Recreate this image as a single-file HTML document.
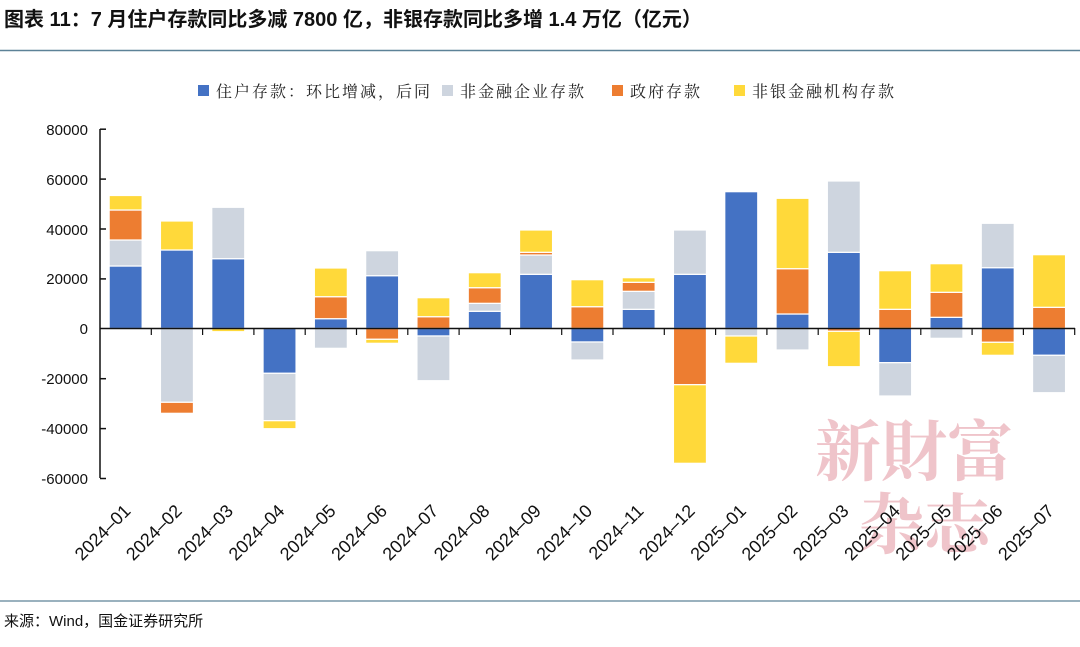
<!DOCTYPE html>
<html><head><meta charset="utf-8"><style>
body{margin:0;background:#fff;}
svg text{font-family:"Liberation Sans","Noto Sans CJK SC",sans-serif;}
</style></head><body>
<svg width="1080" height="642" viewBox="0 0 1080 642" xmlns="http://www.w3.org/2000/svg">
<rect width="1080" height="642" fill="#fff"/>
<text x="4" y="26" font-size="20" font-weight="bold" fill="#111">图表 11：7 月住户存款同比多减 7800 亿，非银存款同比多增 1.4 万亿（亿元）</text>
<line x1="0" y1="50.5" x2="1080" y2="50.5" stroke="#5d8297" stroke-width="1.5"/>
<line x1="0" y1="601" x2="1080" y2="601" stroke="#5d8297" stroke-width="1.2"/>
<text x="4" y="626" font-size="15" fill="#111">来源：Wind，国金证券研究所</text>
<g font-size="16" fill="#222">
<rect x="198" y="85" width="11" height="11" fill="#4472C4"/><text x="216" y="97" style="font-family:'Noto Serif CJK SC',serif" letter-spacing="2">住户存款：环比增减，后同</text>
<rect x="442" y="85" width="11" height="11" fill="#CED5DF"/><text x="460" y="97" style="font-family:'Noto Serif CJK SC',serif" letter-spacing="2">非金融企业存款</text>
<rect x="612" y="85" width="11" height="11" fill="#ED7D31"/><text x="630" y="97" style="font-family:'Noto Serif CJK SC',serif" letter-spacing="2">政府存款</text>
<rect x="734" y="85" width="11" height="11" fill="#FFD93A"/><text x="752" y="97" style="font-family:'Noto Serif CJK SC',serif" letter-spacing="2">非银金融机构存款</text>
</g>
<g font-size="15" fill="#111" text-anchor="end">
<text x="88" y="135">80000</text><text x="88" y="185">60000</text><text x="88" y="235">40000</text><text x="88" y="284">20000</text><text x="88" y="334">0</text><text x="88" y="384">-20000</text><text x="88" y="434">-40000</text><text x="88" y="484">-60000</text>
</g>
<g fill="#e08a95" fill-opacity="0.5" font-size="66" font-weight="bold">
<text x="815" y="475" style="font-family:'Noto Serif CJK SC',serif">新財富</text>
<text x="858" y="548" style="font-family:'Noto Serif CJK SC',serif">杂志</text>
</g>
<g stroke="#fff" stroke-width="1.2">
<g transform="translate(109.15,0)"><rect y="266" width="33" height="62.5" fill="#4472C4"/><rect y="240" width="33" height="26" fill="#CED5DF"/><rect y="210" width="33" height="30" fill="#ED7D31"/><rect y="195.5" width="33" height="14.5" fill="#FFD93A"/></g>
<g transform="translate(160.45,0)"><rect y="250" width="33" height="78.5" fill="#4472C4"/><rect y="221" width="33" height="29" fill="#FFD93A"/><rect y="328.5" width="33" height="73.8" fill="#CED5DF"/><rect y="402.3" width="33" height="11" fill="#ED7D31"/></g>
<g transform="translate(211.75,0)"><rect y="258.7" width="33" height="69.8" fill="#4472C4"/><rect y="207.3" width="33" height="51.4" fill="#CED5DF"/><rect y="328.5" width="33" height="3.2" fill="#FFD93A"/></g>
<g transform="translate(263.05,0)"><rect y="328.5" width="33" height="44.8" fill="#4472C4"/><rect y="373.3" width="33" height="47.4" fill="#CED5DF"/><rect y="420.7" width="33" height="8" fill="#FFD93A"/></g>
<g transform="translate(314.35,0)"><rect y="318.7" width="33" height="9.8" fill="#4472C4"/><rect y="296.7" width="33" height="22" fill="#ED7D31"/><rect y="268" width="33" height="28.7" fill="#FFD93A"/><rect y="328.5" width="33" height="19.8" fill="#CED5DF"/></g>
<g transform="translate(365.65,0)"><rect y="275.7" width="33" height="52.8" fill="#4472C4"/><rect y="250.7" width="33" height="25" fill="#CED5DF"/><rect y="328.5" width="33" height="10.8" fill="#ED7D31"/><rect y="339.3" width="33" height="4" fill="#FFD93A"/></g>
<g transform="translate(416.95,0)"><rect y="316.7" width="33" height="11.8" fill="#ED7D31"/><rect y="297.7" width="33" height="19" fill="#FFD93A"/><rect y="328.5" width="33" height="7.5" fill="#4472C4"/><rect y="336" width="33" height="44.7" fill="#CED5DF"/></g>
<g transform="translate(468.25,0)"><rect y="311.3" width="33" height="17.2" fill="#4472C4"/><rect y="303.3" width="33" height="8" fill="#CED5DF"/><rect y="287.7" width="33" height="15.6" fill="#ED7D31"/><rect y="272.7" width="33" height="15" fill="#FFD93A"/></g>
<g transform="translate(519.55,0)"><rect y="274.3" width="33" height="54.2" fill="#4472C4"/><rect y="255" width="33" height="19.3" fill="#CED5DF"/><rect y="252.3" width="33" height="2.7" fill="#ED7D31"/><rect y="230" width="33" height="22.3" fill="#FFD93A"/></g>
<g transform="translate(570.85,0)"><rect y="306.7" width="33" height="21.8" fill="#ED7D31"/><rect y="279.7" width="33" height="27" fill="#FFD93A"/><rect y="328.5" width="33" height="13.5" fill="#4472C4"/><rect y="342" width="33" height="18" fill="#CED5DF"/></g>
<g transform="translate(622.15,0)"><rect y="309.3" width="33" height="19.2" fill="#4472C4"/><rect y="291.3" width="33" height="18" fill="#CED5DF"/><rect y="282.3" width="33" height="9" fill="#ED7D31"/><rect y="277.7" width="33" height="4.6" fill="#FFD93A"/></g>
<g transform="translate(673.45,0)"><rect y="274.3" width="33" height="54.2" fill="#4472C4"/><rect y="230" width="33" height="44.3" fill="#CED5DF"/><rect y="328.5" width="33" height="56.2" fill="#ED7D31"/><rect y="384.7" width="33" height="78.6" fill="#FFD93A"/></g>
<g transform="translate(724.75,0)"><rect y="191.7" width="33" height="136.8" fill="#4472C4"/><rect y="328.5" width="33" height="7.5" fill="#CED5DF"/><rect y="336" width="33" height="27.3" fill="#FFD93A"/></g>
<g transform="translate(776.05,0)"><rect y="314" width="33" height="14.5" fill="#4472C4"/><rect y="268.7" width="33" height="45.3" fill="#ED7D31"/><rect y="198.3" width="33" height="70.4" fill="#FFD93A"/><rect y="328.5" width="33" height="21.5" fill="#CED5DF"/></g>
<g transform="translate(827.35,0)"><rect y="252.3" width="33" height="76.2" fill="#4472C4"/><rect y="181" width="33" height="71.3" fill="#CED5DF"/><rect y="328.5" width="33" height="2.8" fill="#ED7D31"/><rect y="331.3" width="33" height="35.4" fill="#FFD93A"/></g>
<g transform="translate(878.65,0)"><rect y="309.3" width="33" height="19.2" fill="#ED7D31"/><rect y="270.7" width="33" height="38.6" fill="#FFD93A"/><rect y="328.5" width="33" height="34.2" fill="#4472C4"/><rect y="362.7" width="33" height="33.3" fill="#CED5DF"/></g>
<g transform="translate(929.95,0)"><rect y="317.3" width="33" height="11.2" fill="#4472C4"/><rect y="292.3" width="33" height="25" fill="#ED7D31"/><rect y="263.7" width="33" height="28.6" fill="#FFD93A"/><rect y="328.5" width="33" height="9.8" fill="#CED5DF"/></g>
<g transform="translate(981.25,0)"><rect y="267.7" width="33" height="60.8" fill="#4472C4"/><rect y="223.3" width="33" height="44.4" fill="#CED5DF"/><rect y="328.5" width="33" height="13.8" fill="#ED7D31"/><rect y="342.3" width="33" height="13" fill="#FFD93A"/></g>
<g transform="translate(1032.55,0)"><rect y="307.3" width="33" height="21.2" fill="#ED7D31"/><rect y="254.7" width="33" height="52.6" fill="#FFD93A"/><rect y="328.5" width="33" height="26.8" fill="#4472C4"/><rect y="355.3" width="33" height="37.4" fill="#CED5DF"/></g>
</g>
<line x1="100" y1="129" x2="100" y2="478" stroke="#111" stroke-width="1.5"/>
<g stroke="#111" stroke-width="1.5">
<line x1="100" y1="129.2" x2="106" y2="129.2"/><line x1="100" y1="179.1" x2="106" y2="179.1"/><line x1="100" y1="229" x2="106" y2="229"/><line x1="100" y1="278.9" x2="106" y2="278.9"/><line x1="100" y1="378.7" x2="106" y2="378.7"/><line x1="100" y1="428.6" x2="106" y2="428.6"/><line x1="100" y1="478.5" x2="106" y2="478.5"/>
</g>
<line x1="100" y1="328.5" x2="1075" y2="328.5" stroke="#111" stroke-width="1.5"/>
<g stroke="#111" stroke-width="1.2">
<line x1="151.3" y1="328" x2="151.3" y2="335"/><line x1="202.6" y1="328" x2="202.6" y2="335"/><line x1="253.9" y1="328" x2="253.9" y2="335"/><line x1="305.2" y1="328" x2="305.2" y2="335"/><line x1="356.5" y1="328" x2="356.5" y2="335"/><line x1="407.8" y1="328" x2="407.8" y2="335"/><line x1="459.1" y1="328" x2="459.1" y2="335"/><line x1="510.4" y1="328" x2="510.4" y2="335"/><line x1="561.7" y1="328" x2="561.7" y2="335"/><line x1="613" y1="328" x2="613" y2="335"/><line x1="664.3" y1="328" x2="664.3" y2="335"/><line x1="715.6" y1="328" x2="715.6" y2="335"/><line x1="766.9" y1="328" x2="766.9" y2="335"/><line x1="818.2" y1="328" x2="818.2" y2="335"/><line x1="869.5" y1="328" x2="869.5" y2="335"/><line x1="920.8" y1="328" x2="920.8" y2="335"/><line x1="972.1" y1="328" x2="972.1" y2="335"/><line x1="1023.4" y1="328" x2="1023.4" y2="335"/><line x1="1074.7" y1="328" x2="1074.7" y2="335"/>
</g>
<g font-size="18" fill="#111" text-anchor="end">
<text transform="translate(131.65,512) rotate(-45)">2024–01</text>
<text transform="translate(182.95,512) rotate(-45)">2024–02</text>
<text transform="translate(234.25,512) rotate(-45)">2024–03</text>
<text transform="translate(285.55,512) rotate(-45)">2024–04</text>
<text transform="translate(336.85,512) rotate(-45)">2024–05</text>
<text transform="translate(388.15,512) rotate(-45)">2024–06</text>
<text transform="translate(439.45,512) rotate(-45)">2024–07</text>
<text transform="translate(490.75,512) rotate(-45)">2024–08</text>
<text transform="translate(542.05,512) rotate(-45)">2024–09</text>
<text transform="translate(593.35,512) rotate(-45)">2024–10</text>
<text transform="translate(644.65,512) rotate(-45)">2024–11</text>
<text transform="translate(695.95,512) rotate(-45)">2024–12</text>
<text transform="translate(747.25,512) rotate(-45)">2025–01</text>
<text transform="translate(798.55,512) rotate(-45)">2025–02</text>
<text transform="translate(849.85,512) rotate(-45)">2025–03</text>
<text transform="translate(901.15,512) rotate(-45)">2025–04</text>
<text transform="translate(952.45,512) rotate(-45)">2025–05</text>
<text transform="translate(1003.75,512) rotate(-45)">2025–06</text>
<text transform="translate(1055.05,512) rotate(-45)">2025–07</text>
</g>
</svg>
</body></html>
